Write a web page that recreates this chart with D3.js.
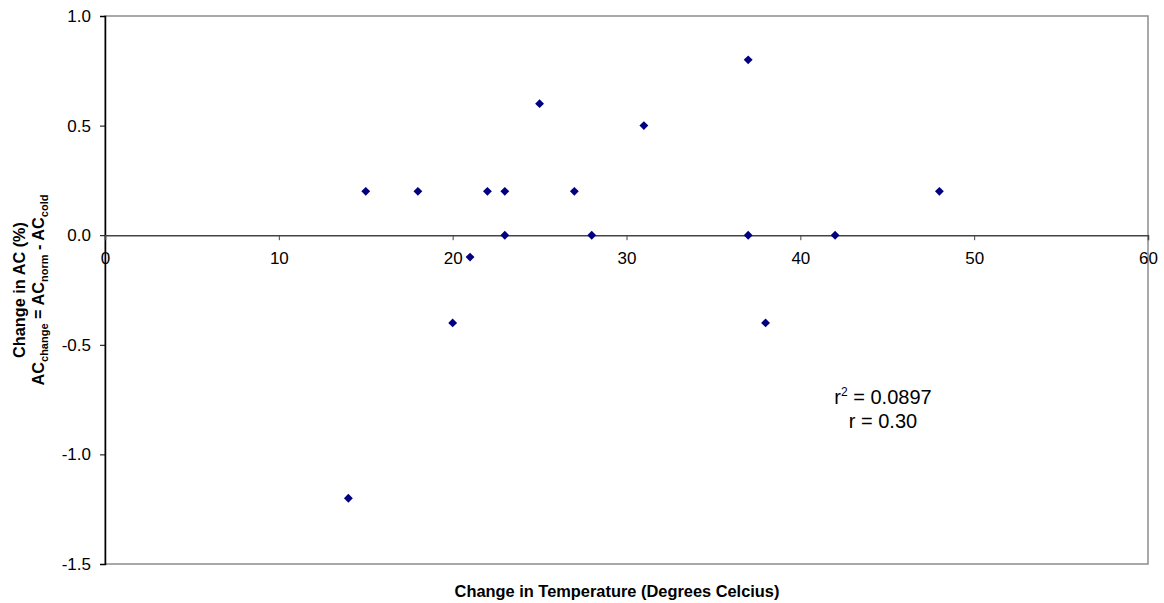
<!DOCTYPE html>
<html><head><meta charset="utf-8">
<script src="https://cdn.jsdelivr.net/npm/d3@7"></script>
<style>body{margin:0;background:#fff;} text{font-family:"Liberation Sans",Arial,sans-serif;}</style>
</head><body>
<svg id="c" width="1164" height="603"></svg>
<script>
const tempChange = [14, 15, 18, 20, 21, 22, 23, 23, 25, 27, 28, 31, 37, 37, 38, 42, 48];
const acChange   = [-1.2, 0.2, 0.2, -0.4, -0.1, 0.2, 0.2, 0.0, 0.6, 0.2, 0.0, 0.5, 0.8, 0.0, -0.4, 0.0, 0.2];
const xTicks = [0, 10, 20, 30, 40, 50, 60];
const yTicks = [1.0, 0.5, 0.0, -0.5, -1.0, -1.5];

const svg = d3.select("#c");
const L = 105, R = 1148, T = 16, B = 564;
const x = d3.scaleLinear().domain([0, 60]).range([L, R]);
const y = d3.scaleLinear().domain([-1.5, 1.0]).range([B, T]);
const FF = "Liberation Sans, Arial, sans-serif";

// border (gray)
svg.append("rect").attr("x", L).attr("y", T).attr("width", R - L).attr("height", B - T)
  .attr("fill", "none").attr("stroke", "#8c8c8c").attr("stroke-width", 1.5);

// y axis
const yAxis = d3.axisLeft(y).tickValues(yTicks).tickFormat(d => d.toFixed(1)).tickSize(5).tickPadding(9);
const gy = svg.append("g").attr("transform", `translate(${L},0)`).call(yAxis);
gy.select(".domain").attr("stroke", "#000").attr("stroke-width", 1.5);
gy.selectAll(".tick line").attr("stroke", "#000");
gy.selectAll("text").attr("font-size", 17).attr("fill", "#000").style("font-family", FF);

// x axis at y=0
const xAxis = d3.axisBottom(x).tickValues(xTicks).tickFormat(d => String(d)).tickSize(5).tickPadding(12);
const gx = svg.append("g").attr("transform", `translate(0,${y(0)})`).call(xAxis);
gx.select(".domain").attr("stroke", "#444").attr("stroke-width", 1.5);
gx.selectAll(".tick line").attr("stroke", "#444");
gx.selectAll("text").attr("font-size", 17).attr("fill", "#000").style("font-family", FF);

// points
const pts = tempChange.map((t, i) => ({t, v: acChange[i]}));
svg.append("g").selectAll("path").data(pts).join("path")
  .attr("d", d3.symbol().type(d3.symbolDiamond2).size(50))
  .attr("transform", d => `translate(${x(d.t)},${y(d.v)})`)
  .attr("fill", "#000080");

// annotation
const ann = svg.append("g").attr("font-size", 20).attr("text-anchor", "middle").attr("fill", "#000");
const t1 = ann.append("text").attr("x", 883).attr("y", 404);
t1.append("tspan").text("r");
t1.append("tspan").attr("font-size", 12).attr("dy", -8).text("2");
t1.append("tspan").attr("dy", 8).text(" = 0.0897");
ann.append("text").attr("x", 883).attr("y", 428).text("r = 0.30");

// x title
svg.append("text").attr("x", 617).attr("y", 597).attr("text-anchor", "middle")
  .attr("font-size", 16.4).attr("font-weight", "bold").text("Change in Temperature (Degrees Celcius)");

// y title
const cy = (T + B) / 2;
svg.append("text").attr("transform", `translate(25,${cy}) rotate(-90)`).attr("text-anchor", "middle")
  .attr("font-size", 16.3).attr("font-weight", "bold").text("Change in AC (%)");
const t2 = svg.append("text").attr("transform", `translate(44,${cy}) rotate(-90)`).attr("text-anchor", "middle")
  .attr("font-size", 16.3).attr("font-weight", "bold");
t2.append("tspan").text("AC");
t2.append("tspan").attr("font-size", 11).attr("dy", 4).text("change");
t2.append("tspan").attr("dy", -4).text(" = AC");
t2.append("tspan").attr("font-size", 11).attr("dy", 4).text("norm");
t2.append("tspan").attr("dy", -4).text(" - AC");
t2.append("tspan").attr("font-size", 11).attr("dy", 4).text("cold");
</script>
</body></html>
